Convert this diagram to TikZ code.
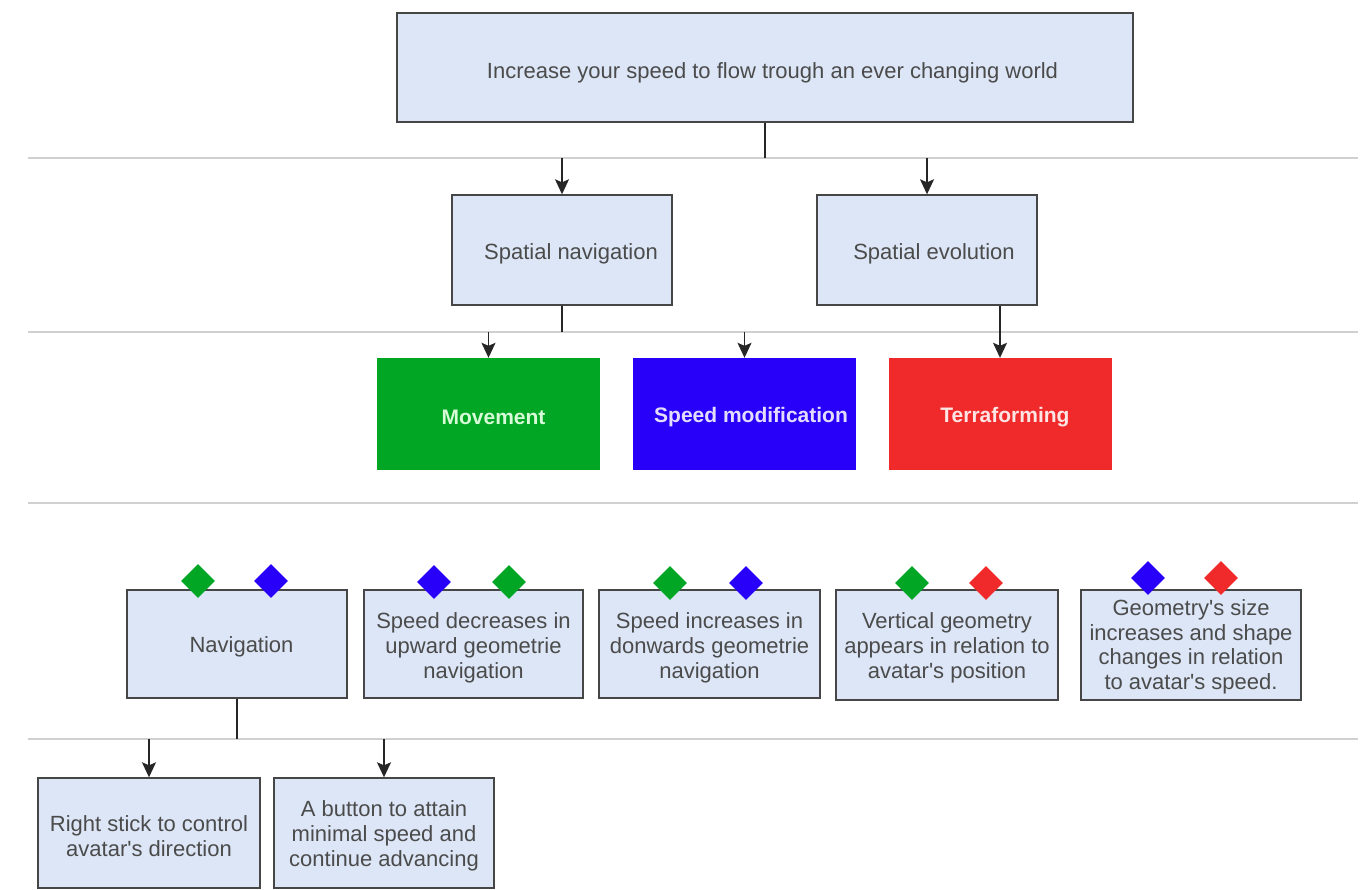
\documentclass[tikz,border=0pt]{standalone}
\usepackage{fontspec}
\setmainfont{Liberation Sans}[Ligatures=TeXOff]
\usetikzlibrary{shapes.geometric,arrows.meta}
\definecolor{boxfill}{RGB}{220,230,246}
\definecolor{boxdraw}{RGB}{70,70,70}
\definecolor{txt}{RGB}{75,75,75}
\definecolor{sepc}{RGB}{208,208,208}
\definecolor{cgreen}{RGB}{0,166,36}
\definecolor{cblue}{RGB}{40,0,250}
\definecolor{cred}{RGB}{240,42,42}
\definecolor{tgreen}{RGB}{215,250,215}
\definecolor{tblue}{RGB}{228,220,255}
\definecolor{tred}{RGB}{255,228,228}
\begin{document}
\begin{tikzpicture}[x=1pt,y=-1pt,
  box/.style={draw=boxdraw, line width=1.4pt, fill=boxfill, inner sep=0pt},
  btxt/.style={text=txt, align=center, inner sep=0pt, font=\fontsize{22}{25}\selectfont},
  cbox/.style={draw=none, inner sep=0pt, minimum width=223, minimum height=112},
  ctxt/.style={inner sep=0pt, font=\fontsize{21}{25}\selectfont\bfseries},
  dia/.style={diamond, draw=none, inner sep=0pt, minimum width=34, minimum height=34},
  sepline/.style={draw=sepc, line width=2pt},
  conn/.style={draw=black!85, line width=1.4pt},
  arr/.style={conn, -{Stealth[length=15pt,width=14pt,inset=3pt]}}
]
\useasboundingbox (0,0) rectangle (1370,890);
% separators
\draw[sepline] (28,158) -- (1358,158);
\draw[sepline] (28,332) -- (1358,332);
\draw[sepline] (28,503) -- (1358,503);
\draw[sepline] (28,739) -- (1358,739);
\coordinate (s1) at (765,158);
\coordinate (s2) at (562,332);
\coordinate (s4) at (237,739);

% top
\node[box, minimum width=736, minimum height=109] (top) at (765,67.5) {};
\node[btxt] (topt) at ([xshift=7.5pt,yshift=-5pt]top.center)
  {Increase your speed to flow trough an ever changing world};

% level 2
\node[box, minimum width=220, minimum height=110] (sn) at (562,250) {};
\node[btxt] (snt) at ([xshift=9pt,yshift=-4pt]sn.center) {Spatial navigation};
\node[box, minimum width=220, minimum height=110] (se) at (927,250) {};
\node[btxt] (set) at ([xshift=7pt,yshift=-4pt]se.center) {Spatial evolution};

% level 3
\node[cbox, fill=cgreen] (mov) at (488.5,414) {};
\node[ctxt, text=tgreen] (movt) at ([xshift=5pt,yshift=-3.5pt]mov.center) {Movement};
\node[cbox, fill=cblue] (spd) at (744.5,414) {};
\node[ctxt, text=tblue] (spdt) at ([xshift=6.5pt,yshift=-3.5pt]spd.center) {Speed modification};
\node[cbox, fill=cred] (ter) at (1000,414) {};
\node[ctxt, text=tred] (tert) at ([xshift=5pt,yshift=-3.5pt]ter.center) {Terraforming};

% level 4
\node[box, minimum width=220, minimum height=108] (nav) at (237,644) {};
\node[btxt] (navt) at ([xshift=4.5pt,yshift=-3pt]nav.center) {Navigation};
\node[box, minimum width=219, minimum height=108] (dec) at (473.5,644) {};
\node[btxt] (dect) at ([yshift=-4pt]dec.center) {Speed decreases in\\upward geometrie\\navigation};
\node[box, minimum width=221, minimum height=108] (inc) at (709.5,644) {};
\node[btxt] (inct) at ([yshift=-4pt]inc.center) {Speed increases in\\donwards geometrie\\navigation};
\node[box, minimum width=222, minimum height=110] (ver) at (947,645) {};
\node[btxt] (vert) at ([yshift=-3pt]ver.center) {Vertical geometry\\appears in relation to\\avatar's position};
\node[box, minimum width=220, minimum height=110] (geo) at (1191,645) {};
\node[btxt, font=\fontsize{22}{24.5}\selectfont] (geot) at ([yshift=-2pt]geo.center)
  {Geometry's size\\increases and shape\\changes in relation\\to avatar's speed.};

% diamonds
\node[dia, fill=cgreen] (d1) at (198,581) {};
\node[dia, fill=cblue] (d2) at (271,581) {};
\node[dia, fill=cblue] (d3) at (434,582) {};
\node[dia, fill=cgreen] (d4) at (509,582) {};
\node[dia, fill=cgreen] (d5) at (670,583) {};
\node[dia, fill=cblue] (d6) at (746,583) {};
\node[dia, fill=cgreen] (d7) at (912,583) {};
\node[dia, fill=cred] (d8) at (986,583) {};
\node[dia, fill=cblue] (d9) at (1148,578) {};
\node[dia, fill=cred] (d10) at (1221,578) {};

% level 5
\node[box, minimum width=222, minimum height=110] (rs) at (149,833) {};
\node[btxt] (rst) at ([yshift=-3pt]rs.center) {Right stick to control\\avatar's direction};
\node[box, minimum width=220, minimum height=110] (ab) at (384,833) {};
\node[btxt] (abt) at ([yshift=-3pt]ab.center) {A button to attain\\minimal speed and\\continue advancing};

% connectors
\draw[conn] (top.south) -- (s1);
\draw[arr] (sn.north |- s1) -- (sn.north);
\draw[arr] (se.north |- s1) -- (se.north);
\draw[conn] (sn.south) -- (s2);
\draw[arr] (mov.north |- s2) -- (mov.north);
\draw[arr] (spd.north |- s2) -- (spd.north);
\draw[arr] (se.south -| ter.north) -- (ter.north);
\draw[conn] (nav.south) -- (s4);
\draw[arr] (rs.north |- s4) -- (rs.north);
\draw[arr] (ab.north |- s4) -- (ab.north);
\end{tikzpicture}
\end{document}
